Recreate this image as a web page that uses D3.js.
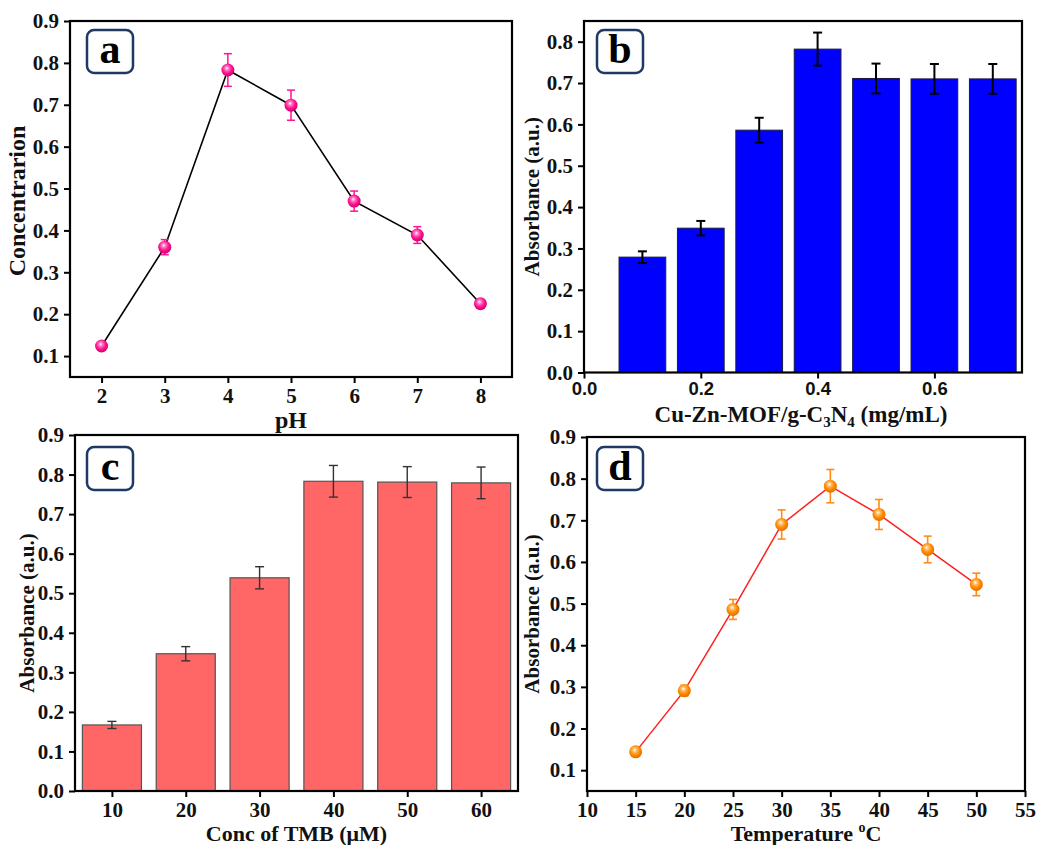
<!DOCTYPE html>
<html>
<head>
<meta charset="utf-8">
<script src="https://cdn.jsdelivr.net/npm/d3@7"></script>
<style>
  html, body { margin: 0; padding: 0; background: #ffffff; }
  svg { display: block; }
</style>
</head>
<body>
<svg id="chart" width="1037" height="845"></svg>
<script>
// ---------------- data ----------------
// Panel a: pH
const pHValues = [2, 3, 4, 5, 6, 7, 8];
const concA = [0.124, 0.36, 0.783, 0.699, 0.47, 0.389, 0.225];
const errA = [0.005, 0.018, 0.039, 0.036, 0.024, 0.02, 0.006];
const ticksAx = [2, 3, 4, 5, 6, 7, 8];
const ticksAy = [0.1, 0.2, 0.3, 0.4, 0.5, 0.6, 0.7, 0.8, 0.9];

// Panel b: catalyst dose
const doseB = [0.1, 0.2, 0.3, 0.4, 0.5, 0.6, 0.7];
const absB = [0.279, 0.349, 0.586, 0.782, 0.711, 0.71, 0.71];
const errB = [0.014, 0.0175, 0.03, 0.04, 0.036, 0.036, 0.036];
const ticksBx = [0.0, 0.2, 0.4, 0.6];
const ticksBy = [0.0, 0.1, 0.2, 0.3, 0.4, 0.5, 0.6, 0.7, 0.8];

// Panel c: TMB concentration
const tmbC = [10, 20, 30, 40, 50, 60];
const absC = [0.167, 0.347, 0.539, 0.783, 0.781, 0.779];
const errC = [0.009, 0.018, 0.028, 0.04, 0.039, 0.04];
const ticksCx = [10, 20, 30, 40, 50, 60];
const ticksCy = [0.0, 0.1, 0.2, 0.3, 0.4, 0.5, 0.6, 0.7, 0.8, 0.9];

// Panel d: temperature
const tempD = [15, 20, 25, 30, 35, 40, 45, 50];
const absD = [0.144, 0.291, 0.486, 0.690, 0.782, 0.714, 0.630, 0.546];
const errD = [0.004, 0.013, 0.024, 0.035, 0.04, 0.036, 0.032, 0.027];
const ticksDx = [10, 15, 20, 25, 30, 35, 40, 45, 50, 55];
const ticksDy = [0.1, 0.2, 0.3, 0.4, 0.5, 0.6, 0.7, 0.8, 0.9];

// ---------------- drawing ----------------
const svg = d3.select("#chart");
const SERIF = "'Liberation Serif', 'Times New Roman', serif";
const SANS = "'Liberation Sans', Arial, sans-serif";

const defs = svg.append("defs");
function sphereGradient(id, light, base, dark) {
  const g = defs.append("radialGradient").attr("id", id)
    .attr("cx", "45%").attr("cy", "40%").attr("r", "60%").attr("fx", "42%").attr("fy", "35%");
  g.append("stop").attr("offset", "0%").attr("stop-color", "#ffffff");
  g.append("stop").attr("offset", "25%").attr("stop-color", light);
  g.append("stop").attr("offset", "60%").attr("stop-color", base);
  g.append("stop").attr("offset", "100%").attr("stop-color", dark);
}
sphereGradient("pinkBall", "#ff7ac0", "#ff1493", "#d0006a");
sphereGradient("orangeBall", "#ffc070", "#ff8c00", "#e07000");

function panel(cfg) {
  const g = svg.append("g");
  const x = d3.scaleLinear().domain(cfg.xDomain).range([cfg.left, cfg.right]);
  const y = d3.scaleLinear().domain(cfg.yDomain).range([cfg.bottom, cfg.top]);

  const content = g.append("g");

  const xAxis = g.append("g").attr("transform", `translate(0,${cfg.bottom})`)
    .call(d3.axisBottom(x).tickValues(cfg.xTicks).tickFormat(cfg.xFormat).tickSize(6).tickSizeOuter(0)
      .tickPadding(cfg.xPad != null ? cfg.xPad : 5));
  xAxis.select(".domain").remove();
  xAxis.selectAll(".tick line").attr("stroke", "#000").attr("stroke-width", 2);
  xAxis.selectAll(".tick text").attr("font-family", cfg.xFont || SERIF).attr("font-weight", "bold")
    .attr("font-size", cfg.xFontSize || 21).attr("fill", "#111").attr("dy", "0.71em");

  const yAxis = g.append("g").attr("transform", `translate(${cfg.left},0)`)
    .call(d3.axisLeft(y).tickValues(cfg.yTicks).tickFormat(d3.format(".1f")).tickSize(6).tickSizeOuter(0).tickPadding(5));
  yAxis.select(".domain").remove();
  yAxis.selectAll(".tick line").attr("stroke", "#000").attr("stroke-width", 2);
  yAxis.selectAll(".tick text").attr("font-family", SERIF).attr("font-weight", "bold")
    .attr("font-size", 21).attr("fill", "#111");

  g.append("rect").attr("x", cfg.left).attr("y", cfg.top)
    .attr("width", cfg.right - cfg.left).attr("height", cfg.bottom - cfg.top)
    .attr("fill", "none").attr("stroke", "#000").attr("stroke-width", 2.2);

  const xt = g.append("text").attr("x", (cfg.left + cfg.right) / 2 + (cfg.xTitleDx || 0)).attr("y", cfg.xTitleY)
    .attr("text-anchor", "middle").attr("font-family", SERIF).attr("font-weight", "bold")
    .attr("font-size", cfg.xTitleSize || 22).attr("fill", "#111");
  cfg.xTitle(xt);

  g.append("text")
    .attr("transform", `translate(${cfg.yTitleX},${(cfg.top + cfg.bottom) / 2 + (cfg.yTitleDy || 0)}) rotate(-90)`)
    .attr("text-anchor", "middle").attr("font-family", SERIF).attr("font-weight", "bold")
    .attr("font-size", cfg.yTitleSize || 21).attr("fill", "#111").text(cfg.yTitle);

  const bx = cfg.left + cfg.boxDx, by = cfg.top + cfg.boxDy;
  g.append("rect").attr("x", bx).attr("y", by).attr("width", 46).attr("height", 43)
    .attr("rx", 7).attr("fill", "#fff").attr("stroke", "#1f3864").attr("stroke-width", 2.5);
  g.append("text").attr("x", bx + 23).attr("y", by + 33).attr("text-anchor", "middle")
    .attr("font-family", SERIF).attr("font-weight", "bold").attr("font-size", 42).attr("fill", "#000")
    .text(cfg.letter);

  return { content, x, y };
}

function errorBars(sel, xs, ys, es, x, y, color, width, capW) {
  const d = xs.map((v, i) => ({ x: v, y: ys[i], e: es[i] }));
  const eb = sel.append("g").selectAll("g").data(d).join("g");
  eb.append("line").attr("x1", p => x(p.x)).attr("x2", p => x(p.x))
    .attr("y1", p => y(p.y - p.e)).attr("y2", p => y(p.y + p.e))
    .attr("stroke", color).attr("stroke-width", width);
  eb.append("line").attr("x1", p => x(p.x) - capW / 2).attr("x2", p => x(p.x) + capW / 2)
    .attr("y1", p => y(p.y + p.e)).attr("y2", p => y(p.y + p.e))
    .attr("stroke", color).attr("stroke-width", width);
  eb.append("line").attr("x1", p => x(p.x) - capW / 2).attr("x2", p => x(p.x) + capW / 2)
    .attr("y1", p => y(p.y - p.e)).attr("y2", p => y(p.y - p.e))
    .attr("stroke", color).attr("stroke-width", width);
}

// ---- Panel a ----
{
  const p = panel({
    left: 70, right: 512, top: 21, bottom: 377,
    xDomain: [1.5, 8.5], yDomain: [0.05, 0.9],
    xTicks: ticksAx, yTicks: ticksAy, xFormat: d3.format("d"),
    xTitleY: 428, xTitleSize: 24, xTitle: t => t.text("pH"),
    yTitleX: 25, yTitleSize: 24, yTitleDy: 2, yTitle: "Concentrarion",
    boxDx: 17, boxDy: 9, letter: "a"
  });
  const pts = pHValues.map((v, i) => [v, concA[i]]);
  p.content.append("path").datum(pts)
    .attr("d", d3.line().x(d => p.x(d[0])).y(d => p.y(d[1])))
    .attr("fill", "none").attr("stroke", "#000").attr("stroke-width", 1.6);
  errorBars(p.content, pHValues, concA, errA, p.x, p.y, "#ff1493", 1.5, 8);
  p.content.append("g").selectAll("circle").data(pts).join("circle")
    .attr("cx", d => p.x(d[0])).attr("cy", d => p.y(d[1])).attr("r", 6.5)
    .attr("fill", "url(#pinkBall)");
}

// ---- Panel b ----
{
  const p = panel({
    left: 584, right: 1022, top: 21, bottom: 372.5,
    xDomain: [0, 0.75], yDomain: [0, 0.85],
    xTicks: ticksBx, yTicks: ticksBy, xFormat: d3.format(".1f"),
    xFont: SANS, xFontSize: 18.5, xPad: 3,
    xTitleY: 422, xTitleDx: -2, xTitleSize: 23,
    xTitle: t => {
      t.append("tspan").text("Cu-Zn-MOF/g-C");
      t.append("tspan").attr("font-size", 15).attr("dy", 5).text("3");
      t.append("tspan").attr("dy", -5).text("N");
      t.append("tspan").attr("font-size", 15).attr("dy", 5).text("4");
      t.append("tspan").attr("dy", -5).text(" (mg/mL)");
    },
    yTitleX: 539, yTitle: "Absorbance (a.u.)",
    boxDx: 13, boxDy: 9, letter: "b"
  });
  const bw = 0.08;
  p.content.append("g").selectAll("rect").data(doseB.map((v, i) => [v, absB[i]])).join("rect")
    .attr("x", d => p.x(d[0] - bw / 2)).attr("width", p.x(bw) - p.x(0))
    .attr("y", d => p.y(d[1])).attr("height", d => p.y(0) - p.y(d[1]))
    .attr("fill", "#0000ff").attr("stroke", "#1a1a40").attr("stroke-width", 1);
  errorBars(p.content, doseB, absB, errB, p.x, p.y, "#000", 2, 9);
}

// ---- Panel c ----
{
  const p = panel({
    left: 75, right: 518, top: 435, bottom: 791,
    xDomain: [5, 65], yDomain: [0, 0.9],
    xTicks: ticksCx, yTicks: ticksCy, xFormat: d3.format("d"),
    xTitleY: 841, xTitleDx: 0,
    xTitle: t => t.text("Conc of TMB (\u03bcM)"),
    yTitleX: 34, yTitle: "Absorbance (a.u.)",
    boxDx: 12, boxDy: 12, letter: "c"
  });
  const bw = 8;
  p.content.append("g").selectAll("rect").data(tmbC.map((v, i) => [v, absC[i]])).join("rect")
    .attr("x", d => p.x(d[0] - bw / 2)).attr("width", p.x(bw) - p.x(0))
    .attr("y", d => p.y(d[1])).attr("height", d => p.y(0) - p.y(d[1]))
    .attr("fill", "#ff6666").attr("stroke", "#555").attr("stroke-width", 1.2);
  errorBars(p.content, tmbC, absC, errC, p.x, p.y, "#333", 1.4, 9);
}

// ---- Panel d ----
{
  const p = panel({
    left: 587, right: 1025, top: 437, bottom: 791,
    xDomain: [10, 55], yDomain: [0.05, 0.9],
    xTicks: ticksDx, yTicks: ticksDy, xFormat: d3.format("d"),
    xTitleY: 841, xTitleDx: 0,
    xTitle: t => {
      t.append("tspan").text("Temperature ");
      t.append("tspan").attr("font-size", 14).attr("dy", -9).text("o");
      t.append("tspan").attr("dy", 9).text("C");
    },
    yTitleX: 539, yTitle: "Absorbance (a.u.)",
    boxDx: 10, boxDy: 10, letter: "d"
  });
  const pts = tempD.map((v, i) => [v, absD[i]]);
  p.content.append("path").datum(pts)
    .attr("d", d3.line().x(d => p.x(d[0])).y(d => p.y(d[1])))
    .attr("fill", "none").attr("stroke", "#ff2020").attr("stroke-width", 1.5);
  errorBars(p.content, tempD, absD, errD, p.x, p.y, "#ff8c1a", 1.6, 8);
  p.content.append("g").selectAll("circle").data(pts).join("circle")
    .attr("cx", d => p.x(d[0])).attr("cy", d => p.y(d[1])).attr("r", 6.5)
    .attr("fill", "url(#orangeBall)");
}
</script>
</body>
</html>
